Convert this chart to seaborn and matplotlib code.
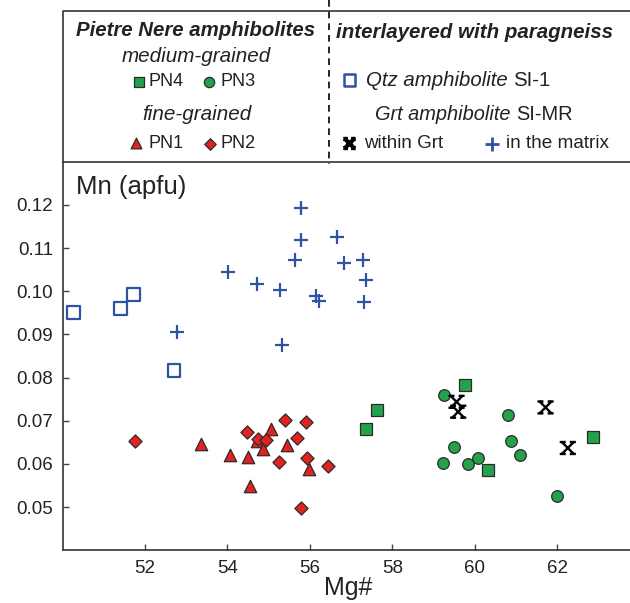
import numpy as np
import pandas as pd
import matplotlib
matplotlib.use("Agg")
import matplotlib.pyplot as plt
import seaborn as sns
from matplotlib.path import Path
from matplotlib.markers import MarkerStyle
from matplotlib.ticker import FormatStrFormatter

# ---------------- data (Mg#, Mn apfu) ----------------
pn4_x = [59.77, 57.63, 57.37, 60.33, 62.86]
pn4_y = [0.0782, 0.0726, 0.0682, 0.0585, 0.0663]

pn3_x = [59.26, 60.81, 60.89, 61.11, 59.49, 59.22, 59.83, 60.08, 62.01]
pn3_y = [0.0759, 0.0714, 0.0654, 0.0621, 0.0640, 0.0602, 0.0600, 0.0613, 0.0525]

pn1_x = [55.06, 53.35, 54.05, 54.50, 54.55, 54.71, 54.86, 55.45, 55.99]
pn1_y = [0.0682, 0.0647, 0.0621, 0.0615, 0.0549, 0.0653, 0.0634, 0.0643, 0.0588]

pn2_x = [51.76, 54.48, 54.74, 54.93, 55.39, 55.90, 55.69, 55.24, 55.94, 56.45, 55.79]
pn2_y = [0.0653, 0.0673, 0.0657, 0.0655, 0.0703, 0.0698, 0.0660, 0.0604, 0.0613, 0.0596, 0.0497]

si1_x = [50.26, 51.41, 51.72, 52.70]
si1_y = [0.0951, 0.0960, 0.0993, 0.0816]

grt_x = [59.56, 59.60, 61.72, 62.26]
grt_y = [0.0744, 0.0721, 0.0731, 0.0637]

mtx_x = [55.79, 55.79, 56.67, 55.65, 56.84, 57.30, 54.02, 57.37, 54.72, 55.27,
         56.16, 56.21, 57.32, 52.77, 55.33]
mtx_y = [0.1194, 0.1120, 0.1125, 0.1072, 0.1066, 0.1072, 0.1045, 0.1026, 0.1017, 0.1003,
         0.0988, 0.0978, 0.0976, 0.0905, 0.0875]

x_ticks = [52, 54, 56, 58, 60, 62]
y_ticks = [0.05, 0.06, 0.07, 0.08, 0.09, 0.10, 0.11, 0.12]

# ---------------- style ----------------
sns.set_theme(style="white")
plt.rcParams['font.family'] = ['Liberation Sans', 'DejaVu Sans']

GREEN = '#23a14b'
RED = '#e3211f'
BLUE = '#2f52a4'
EDGE = '#2b2b2b'
TXT = '#222222'

# custom "X with small caps" marker (stroked only)
xcap_path = Path([(-1, -1), (1, 1), (-1, 1), (1, -1),
                  (-1.35, 1), (-0.35, 1), (0.35, 1), (1.35, 1),
                  (-1.35, -1), (-0.35, -1), (0.35, -1), (1.35, -1)],
                 [Path.MOVETO, Path.LINETO] * 6)
xcap = MarkerStyle(xcap_path, fillstyle='none')

W, H = 630, 603
fig = plt.figure(figsize=(W / 100, H / 100), dpi=100)

ax_l, ax_r, ax_t, ax_b = 62.7, 630.0, 161.8, 550.3
ax = fig.add_axes([ax_l / W, 1 - ax_b / H, (ax_r - ax_l) / W, (ax_b - ax_t) / H])

def df(x, y):
    return pd.DataFrame({'Mg#': x, 'Mn': y})

sns.scatterplot(data=df(mtx_x, mtx_y), x='Mg#', y='Mn', ax=ax, marker='+', s=95,
                color=BLUE, linewidth=1.6, zorder=3)
sns.scatterplot(data=df(si1_x, si1_y), x='Mg#', y='Mn', ax=ax, marker='s', s=85,
                color=BLUE, facecolor='none', edgecolor=BLUE, linewidth=1.6, zorder=3)
sns.scatterplot(data=df(pn4_x, pn4_y), x='Mg#', y='Mn', ax=ax, marker='s', s=78,
                color=GREEN, edgecolor=EDGE, linewidth=0.9, zorder=3)
sns.scatterplot(data=df(pn3_x, pn3_y), x='Mg#', y='Mn', ax=ax, marker='o', s=70,
                color=GREEN, edgecolor=EDGE, linewidth=0.9, zorder=3)
sns.scatterplot(data=df(pn1_x, pn1_y), x='Mg#', y='Mn', ax=ax, marker='^', s=80,
                color=RED, edgecolor=EDGE, linewidth=0.9, zorder=3)
sns.scatterplot(data=df(pn2_x, pn2_y), x='Mg#', y='Mn', ax=ax, marker='D', s=45,
                color=RED, edgecolor=EDGE, linewidth=0.9, zorder=3)
sns.scatterplot(data=df(grt_x, grt_y), x='Mg#', y='Mn', ax=ax, marker=xcap, s=135,
                color='black', linewidth=1.7, zorder=4)

ax.set_xlim(50.0, 63.77)
ax.set_ylim(0.04, 0.13)
ax.set_xticks(x_ticks)
ax.set_yticks(y_ticks)
ax.yaxis.set_major_formatter(FormatStrFormatter('%.2f'))
ax.set_xlabel('')
ax.set_ylabel('')
ax.tick_params(direction='in', length=4, width=1.0, color='#444444',
               labelsize=13.5, labelcolor=TXT, pad=7, left=True, bottom=True)
for side in ['left', 'bottom', 'top']:
    ax.spines[side].set_color('#333333')
    ax.spines[side].set_linewidth(1.2)
ax.spines['right'].set_visible(False)
ax.grid(False)

# ---------------- overlay in pixel coords for legend / labels ----------------
ov = fig.add_axes([0, 0, 1, 1], facecolor='none')
ov.set_xlim(0, W)
ov.set_ylim(H, 0)
ov.axis('off')

ov.text(76.5, 187, 'Mn (apfu)', fontsize=18.5, color=TXT, va='center', ha='left')
ov.text(348, 588, 'Mg#', fontsize=18, color=TXT, va='center', ha='center')

# legend box
ov.plot([63, 63, W], [ax_t, 11, 11], color='#333333', lw=1.2, solid_capstyle='butt')
ov.plot([329, 329], [0, 164], color='black', lw=1.2, ls=(0, (4, 3)))

# left part
ov.text(196, 31, 'Pietre Nere amphibolites', fontsize=14.7, fontweight='bold',
        fontstyle='italic', color=TXT, ha='center', va='center')
ov.text(196.5, 57, 'medium-grained', fontsize=14.9, fontstyle='italic', color=TXT,
        ha='center', va='center')
ov.scatter([138.5], [81.5], marker='s', s=55, color=GREEN, edgecolor=EDGE, linewidth=0.9)
ov.text(148.5, 82, 'PN4', fontsize=13, color=TXT, ha='left', va='center')
ov.scatter([209], [81.5], marker='o', s=55, color=GREEN, edgecolor=EDGE, linewidth=0.9)
ov.text(221, 82, 'PN3', fontsize=13, color=TXT, ha='left', va='center')
ov.text(197, 115, 'fine-grained', fontsize=14.9, fontstyle='italic', color=TXT,
        ha='center', va='center')
ov.scatter([136], [143], marker='^', s=60, color=RED, edgecolor=EDGE, linewidth=0.9)
ov.text(149, 143.5, 'PN1', fontsize=13, color=TXT, ha='left', va='center')
ov.scatter([210], [143.5], marker='D', s=34, color=RED, edgecolor=EDGE, linewidth=0.9)
ov.text(221, 143.5, 'PN2', fontsize=13, color=TXT, ha='left', va='center')

# right part
ov.text(336, 33, 'interlayered with paragneiss', fontsize=14.8, fontweight='bold',
        fontstyle='italic', color=TXT, ha='left', va='center')
ov.scatter([349.5], [80], marker='s', s=65, facecolor='none', edgecolor=BLUE, linewidth=1.8)

renderer = fig.canvas.get_renderer()

def mixed(x, y, ital, reg, size):
    t = ov.text(x, y, ital + ' ', fontsize=size, fontstyle='italic', color=TXT,
                ha='left', va='center')
    bb = t.get_window_extent(renderer=renderer)
    ov.text(bb.x1, y, reg, fontsize=size, color=TXT, ha='left', va='center')

mixed(365.5, 80, 'Qtz amphibolite', 'SI-1', 14.7)
mixed(375, 115, 'Grt amphibolite', 'SI-MR', 14.4)

ov.scatter([349.5], [143.5], marker=xcap, s=80, color='black', linewidth=3.0)
ov.text(364.5, 143.5, 'within Grt', fontsize=13.5, color=TXT, ha='left', va='center')
ov.scatter([492], [143.5], marker='+', s=90, color=BLUE, linewidth=2.0)
ov.text(506.5, 143.5, 'in the matrix', fontsize=13.7, color=TXT, ha='left', va='center')

fig.savefig('out.png', dpi=100)
